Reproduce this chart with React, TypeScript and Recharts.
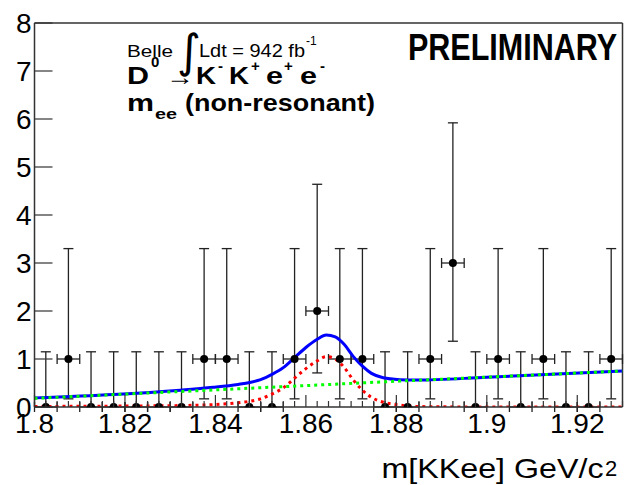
import React from 'react';
import { ComposedChart, XAxis, YAxis, Line, Scatter, ErrorBar, ReferenceLine } from 'recharts';

// histogram bins, m[KKee] in GeV/c^2
const binCenters = [
  1.8025, 1.8075, 1.8125, 1.8175, 1.8225, 1.8275, 1.8325, 1.8375, 1.8425, 1.8475,
  1.8525, 1.8575, 1.8625, 1.8675, 1.8725, 1.8775, 1.8825, 1.8875, 1.8925, 1.8975,
  1.9025, 1.9075, 1.9125, 1.9175, 1.9225, 1.9275,
];
const counts = [0, 1, 0, 0, 0, 0, 0, 1, 1, 0, 0, 1, 2, 1, 1, 0, 0, 1, 3, 0, 1, 0, 1, 0, 0, 1];
const errLow = [0, 0.83, 0, 0, 0, 0, 0, 0.83, 0.83, 0, 0, 0.83, 1.29, 0.83, 0.83, 0, 0, 0.83, 1.63, 0, 0.83, 0, 0.83, 0, 0, 0.83];
const errHigh = [1.15, 2.3, 1.15, 1.15, 1.15, 1.15, 1.15, 2.3, 2.3, 1.15, 1.15, 2.3, 2.64, 2.3, 2.3, 1.15, 1.15, 2.3, 2.92, 1.15, 2.3, 1.15, 2.3, 1.15, 1.15, 2.3];
const binHalfWidth = 0.0025;

// fit curves
const totalMass = [1.8, 1.8175, 1.8322, 1.8395, 1.845, 1.8476, 1.85, 1.8525, 1.855, 1.8575, 1.86, 1.8625, 1.8645, 1.8665, 1.8685, 1.8705, 1.8725, 1.8745, 1.8771, 1.8808, 1.8845, 1.9, 1.93];
const totalFit = [0.19, 0.26, 0.35, 0.41, 0.47, 0.51, 0.57, 0.68, 0.82, 1.03, 1.24, 1.41, 1.5, 1.46, 1.3, 1.05, 0.85, 0.7, 0.61, 0.57, 0.56, 0.62, 0.75];

const sigMass = [1.8, 1.81, 1.82, 1.8322, 1.8395, 1.845, 1.8476, 1.85, 1.8525, 1.855, 1.8575, 1.86, 1.8625, 1.8645, 1.8665, 1.8685, 1.8705, 1.8725, 1.8745, 1.8771, 1.8808, 1.8845, 1.9, 1.93];
const sigFit = [0.01, 0.015, 0.02, 0.03, 0.05, 0.09, 0.12, 0.17, 0.27, 0.4, 0.6, 0.8, 0.96, 1.05, 1.0, 0.82, 0.56, 0.35, 0.2, 0.1, 0.04, 0.01, 0, 0];

const bkgMass = [1.8, 1.8587, 1.8808, 1.93];
const bkgFit = [0.18, 0.44, 0.54, 0.75];

const yTicks = [0, 1, 2, 3, 4, 5, 6, 7, 8];
const xTicks: number[] = [];
for (let i = 0; i <= 52; i++) xTicks.push(Math.round((1.8 + i * 0.0025) * 10000) / 10000);

const points = binCenters.map((x, i) => ({ x, y: counts[i], ey: [errLow[i], errHigh[i]], ex: binHalfWidth }));
const totalCurve = totalMass.map((x, i) => ({ x, y: totalFit[i] }));
const sigCurve = sigMass.map((x, i) => ({ x, y: sigFit[i] }));
const bkgCurve = bkgMass.map((x, i) => ({ x, y: bkgFit[i] }));

const FONT = '"Liberation Sans", Arial, Helvetica, sans-serif';
const AXIS = '#333';

const XTick = (props: any) => {
  const { x, y, payload } = props;
  const v = payload.value;
  const major = Math.abs(v * 50 - Math.round(v * 50)) < 1e-6;
  return (
    <g>
      <line x1={x} x2={x} y1={y} y2={y - (major ? 12 : 6)} stroke={AXIS} strokeWidth={1.2} />
      {major && (
        <text x={x} y={y + 26} textAnchor="middle" fontSize={28} fontFamily={FONT} fill="#000">
          {String(Math.round(v * 100) / 100)}
        </text>
      )}
    </g>
  );
};

const YTick = (props: any) => {
  const { x, y, payload } = props;
  return (
    <g>
      <line x1={x} x2={x + 18} y1={y} y2={y} stroke={AXIS} strokeWidth={1.2} />
      <text x={x - 3} y={y + 10} textAnchor="end" fontSize={28} fontFamily={FONT} fill="#000">
        {payload.value}
      </text>
    </g>
  );
};

const Dot = (p: any) => <circle cx={p.cx} cy={p.cy} r={4} fill="#000" />;

export default function App() {
  return (
    <div style={{ position: 'absolute', left: 0, top: 0, width: 626, height: 485, background: '#fff' }}>
      <ComposedChart width={626} height={485} margin={{ top: 23, right: 3.5, bottom: 0, left: 0 }}>
        <XAxis
          type="number"
          dataKey="x"
          domain={[1.8, 1.93]}
          allowDataOverflow
          ticks={xTicks}
          interval={0}
          tick={<XTick />}
          tickSize={0}
          tickMargin={0}
          tickLine={false}
          height={78}
          axisLine={{ stroke: AXIS, strokeWidth: 1.5 }}
        />
        <YAxis
          type="number"
          dataKey="y"
          domain={[0, 8]}
          allowDataOverflow
          ticks={yTicks}
          interval={0}
          tick={<YTick />}
          tickSize={0}
          tickMargin={0}
          tickLine={false}
          width={34.5}
          axisLine={{ stroke: AXIS, strokeWidth: 1.5 }}
        />
        <ReferenceLine y={8} stroke={AXIS} strokeWidth={1.5} />
        <ReferenceLine x={1.93} stroke={AXIS} strokeWidth={1.5} />
        <Scatter data={points} dataKey="y" shape={<Dot />} isAnimationActive={false}>
          <ErrorBar dataKey="ey" direction="y" width={5} stroke="#222" strokeWidth={1.3} isAnimationActive={false} />
          <ErrorBar dataKey="ex" direction="x" width={5} stroke="#222" strokeWidth={1.3} isAnimationActive={false} />
        </Scatter>
        <Line data={totalCurve} dataKey="y" type="monotone" stroke="#0000ff" strokeWidth={3} dot={false} activeDot={false} isAnimationActive={false} />
        <Line data={sigCurve} dataKey="y" type="monotone" stroke="#ff0000" strokeWidth={3} strokeDasharray="3 4" dot={false} activeDot={false} isAnimationActive={false} />
        <Line data={bkgCurve} dataKey="y" type="linear" stroke="#00ff00" strokeWidth={3} strokeDasharray="3 4" dot={false} activeDot={false} isAnimationActive={false} />
      </ComposedChart>
      <svg width={626} height={485} style={{ position: 'absolute', left: 0, top: 0, pointerEvents: 'none' }} fontFamily={FONT}>
        <text x={127} y={57} fontSize={16} textLength={46} lengthAdjust="spacingAndGlyphs">Belle</text>
        <text x={177} y={67} fontSize={46} fontFamily='"DejaVu Sans", sans-serif'>∫</text>
        <text x={199} y={57} fontSize={18} textLength={106} lengthAdjust="spacingAndGlyphs">Ldt = 942 fb</text>
        <text x={306} y={45} fontSize={12}>-1</text>

        <g fontWeight="bold">
          <text x={127} y={84} fontSize={24} textLength={22} lengthAdjust="spacingAndGlyphs">D</text>
          <text x={151} y={67} fontSize={15}>0</text>
          <text x={166} y={85} fontSize={24} fontWeight="normal" textLength={28} lengthAdjust="spacingAndGlyphs">→</text>
          <text x={196} y={84} fontSize={24} textLength={20} lengthAdjust="spacingAndGlyphs">K</text>
          <text x={218} y={71} fontSize={15}>-</text>
          <text x={229} y={84} fontSize={24} textLength={20} lengthAdjust="spacingAndGlyphs">K</text>
          <text x={251} y={71} fontSize={15}>+</text>
          <text x={266} y={84} fontSize={24} textLength={17} lengthAdjust="spacingAndGlyphs">e</text>
          <text x={284} y={71} fontSize={15}>+</text>
          <text x={300} y={84} fontSize={24} textLength={17} lengthAdjust="spacingAndGlyphs">e</text>
          <text x={320} y={71} fontSize={15}>-</text>

          <text x={127} y={111} fontSize={24} textLength={27} lengthAdjust="spacingAndGlyphs">m</text>
          <text x={155} y={119} fontSize={14} textLength={22} lengthAdjust="spacingAndGlyphs">ee</text>
          <text x={185} y={111} fontSize={24} textLength={190} lengthAdjust="spacingAndGlyphs">(non-resonant)</text>
        </g>

        <text x={408} y={60} fontSize={37} fontWeight="bold" fontFamily='"Liberation Sans Narrow", "Liberation Sans", sans-serif' textLength={209} lengthAdjust="spacingAndGlyphs">PRELIMINARY</text>

        <text x={381.5} y={478} fontSize={28} textLength={222} lengthAdjust="spacingAndGlyphs">m[KKee] GeV/c</text>
        <text x={605} y={476} fontSize={22}>2</text>
      </svg>
    </div>
  );
}
